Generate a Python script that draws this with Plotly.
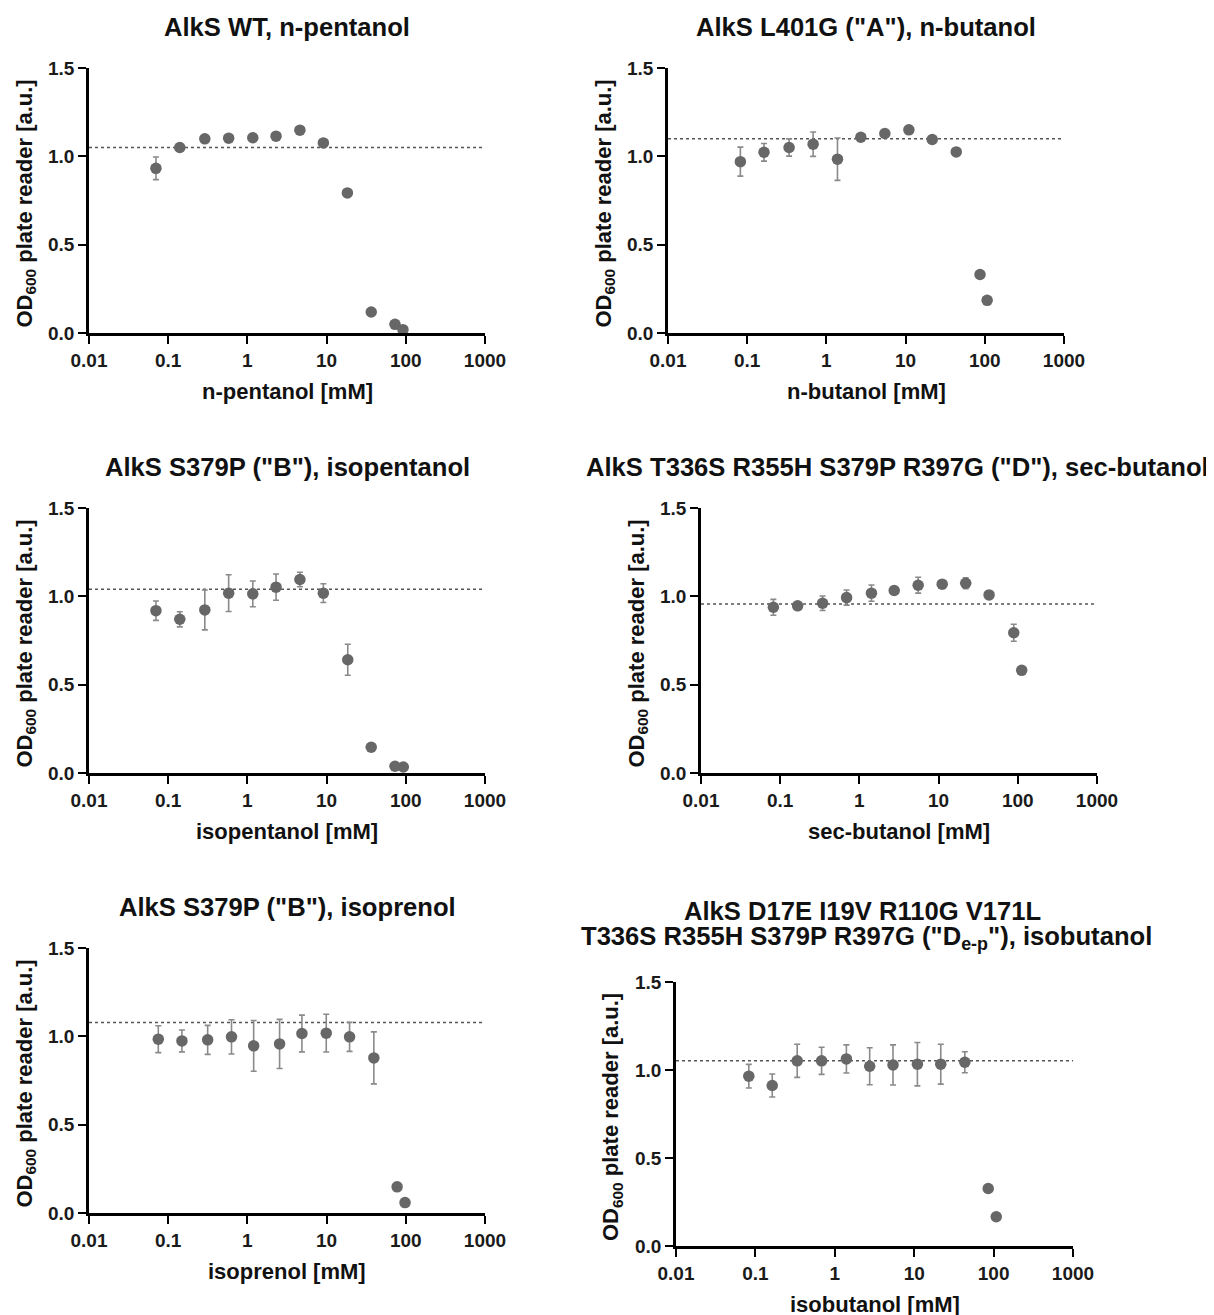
import plotly.graph_objects as go

# ---------------- data ----------------
titles = [
    "AlkS WT, n-pentanol",
    "AlkS L401G (\"A\"), n-butanol",
    "AlkS S379P (\"B\"), isopentanol",
    "AlkS T336S R355H S379P R397G (\"D\"), sec-butanol",
    "AlkS S379P (\"B\"), isoprenol",
    "AlkS D17E I19V R110G V171L",
]
title6_line2 = "T336S R355H S379P R397G (\"D<sub>e-p</sub>\"), isobutanol"
xlabels = ["n-pentanol [mM]", "n-butanol [mM]", "isopentanol [mM]",
           "sec-butanol [mM]", "isoprenol [mM]", "isobutanol [mM]"]
ylabel = "OD<sub>600</sub> plate reader [a.u.]"

x_ticks = [0.01, 0.1, 1, 10, 100, 1000]
x_ticktext = ["0.01", "0.1", "1", "10", "100", "1000"]
y_ticks = [0, 0.5, 1.0, 1.5]
y_ticktext = ["0.0", "0.5", "1.0", "1.5"]

conc_npentanol = [0.07, 0.14, 0.29, 0.58, 1.17, 2.3, 4.6, 9.1, 18.3, 36.6, 73, 92]
od_npentanol = [0.932, 1.050, 1.099, 1.103, 1.105, 1.114, 1.148, 1.076, 0.793, 0.119, 0.049, 0.019]
err_npentanol = [0.064, 0, 0, 0, 0, 0, 0, 0, 0, 0, 0, 0]
base_npentanol = 1.050

conc_nbutanol = [0.082, 0.163, 0.338, 0.68, 1.38, 2.72, 5.47, 11.0, 21.7, 43.6, 87, 107]
od_nbutanol = [0.970, 1.023, 1.050, 1.069, 0.984, 1.108, 1.129, 1.150, 1.095, 1.025, 0.331, 0.185]
err_nbutanol = [0.082, 0.050, 0.049, 0.069, 0.120, 0, 0.015, 0, 0, 0, 0, 0]
base_nbutanol = 1.099

conc_isopentanol = [0.07, 0.14, 0.29, 0.58, 1.17, 2.3, 4.6, 9.1, 18.5, 36.6, 73, 93]
od_isopentanol = [0.919, 0.870, 0.923, 1.018, 1.014, 1.052, 1.095, 1.018, 0.641, 0.146, 0.038, 0.034]
err_isopentanol = [0.055, 0.043, 0.113, 0.104, 0.073, 0.074, 0.041, 0.053, 0.088, 0, 0, 0]
base_isopentanol = 1.040

conc_secbutanol = [0.082, 0.166, 0.343, 0.689, 1.42, 2.75, 5.52, 11.1, 22.0, 43.4, 88.9, 112]
od_secbutanol = [0.938, 0.946, 0.961, 0.993, 1.018, 1.033, 1.063, 1.069, 1.074, 1.008, 0.794, 0.581]
err_secbutanol = [0.045, 0.015, 0.041, 0.043, 0.046, 0.012, 0.045, 0.012, 0.031, 0, 0.048, 0]
base_secbutanol = 0.957

conc_isoprenol = [0.075, 0.149, 0.315, 0.63, 1.2, 2.55, 4.88, 9.9, 19.5, 39.5, 77.7, 97.8]
od_isoprenol = [0.984, 0.974, 0.980, 0.997, 0.946, 0.957, 1.016, 1.018, 0.997, 0.878, 0.148, 0.059]
err_isoprenol = [0.076, 0.062, 0.082, 0.097, 0.144, 0.139, 0.104, 0.107, 0.082, 0.147, 0, 0]
base_isoprenol = 1.078

conc_isobutanol = [0.0826, 0.163, 0.336, 0.682, 1.40, 2.75, 5.41, 10.97, 21.6, 43.4, 85.5, 108]
od_isobutanol = [0.965, 0.912, 1.052, 1.052, 1.063, 1.021, 1.029, 1.033, 1.033, 1.044, 0.327, 0.166]
err_isobutanol = [0.067, 0.065, 0.094, 0.077, 0.080, 0.105, 0.114, 0.123, 0.113, 0.060, 0, 0]
base_isobutanol = 1.052

panels = [
    (conc_npentanol, od_npentanol, err_npentanol, base_npentanol),
    (conc_nbutanol, od_nbutanol, err_nbutanol, base_nbutanol),
    (conc_isopentanol, od_isopentanol, err_isopentanol, base_isopentanol),
    (conc_secbutanol, od_secbutanol, err_secbutanol, base_secbutanol),
    (conc_isoprenol, od_isoprenol, err_isoprenol, base_isoprenol),
    (conc_isobutanol, od_isobutanol, err_isobutanol, base_isobutanol),
]

# ---------------- layout (pixel boxes, screen coordinates) ----------------
W, H = 1214, 1315
OFF = 8  # page body margin
boxes = [
    (89, 485, 68, 333),
    (668, 1064, 68, 333),
    (89, 485, 508, 773),
    (701, 1097, 508, 773),
    (89, 485, 948, 1213),
    (676, 1073, 982, 1246),
]
title_pos = [(287, 27), (866, 27), (287, 467), (897, 467), (287, 907), (862, 911)]
title6_line2_pos = (866, 938)

FONT = "Liberation Sans, Arial, Helvetica, sans-serif"
MARKER = "#676767"
ERRC = "#8a8a8a"


def px(x):
    return (x - OFF) / W


def py(y):
    return 1 - (y - OFF) / H


fig = go.Figure()
annotations = []
shapes = []
layout_axes = {}

title_font = dict(family=FONT, size=25.6, color="#111111", weight="bold")
label_font = dict(family=FONT, size=22, color="#111111", weight="bold")

for i, ((cx, cy, ce, base), (l, r, t, b)) in enumerate(zip(panels, boxes)):
    n = i + 1
    xa = "x" if n == 1 else f"x{n}"
    ya = "y" if n == 1 else f"y{n}"
    fig.add_trace(go.Scatter(
        x=cx, y=cy, xaxis=xa, yaxis=ya, mode="markers",
        marker=dict(color=MARKER, size=11.5, line=dict(width=0)),
        error_y=dict(type="data", array=ce, visible=True, color=ERRC,
                     thickness=1.6, width=3),
        cliponaxis=False, showlegend=False,
    ))
    axis_common = dict(
        showline=True, linecolor="black", linewidth=2.5,
        ticks="outside", ticklen=8, tickwidth=2, tickcolor="black",
        showgrid=False, zeroline=False, automargin=False,
        tickfont=dict(family=FONT, size=19, color="#1a1a1a", weight="bold"),
    )
    layout_axes[("xaxis" if n == 1 else f"xaxis{n}")] = dict(
        axis_common, type="log", range=[-2, 3],
        tickvals=x_ticks, ticktext=x_ticktext,
        domain=[px(l), px(r)], anchor=ya,
    )
    layout_axes[("yaxis" if n == 1 else f"yaxis{n}")] = dict(
        axis_common, range=[0, 1.5],
        tickvals=y_ticks, ticktext=y_ticktext,
        domain=[py(b), py(t)], anchor=xa,
    )
    shapes.append(dict(
        type="line", xref=f"{xa} domain", yref=ya,
        x0=0, x1=1, y0=base, y1=base,
        line=dict(color="#555555", width=1.5, dash="dot"), layer="below",
    ))
    # panel title
    tx, ty = title_pos[i]
    annotations.append(dict(
        text=titles[i], x=px(tx), y=py(ty), xref="paper", yref="paper",
        xanchor="center", yanchor="middle", showarrow=False, font=title_font,
    ))
    # x-axis title
    annotations.append(dict(
        text=xlabels[i], x=px((l + r) / 2), y=py(b + 58), xref="paper", yref="paper",
        xanchor="center", yanchor="middle", showarrow=False, font=label_font,
    ))
    # y-axis title
    annotations.append(dict(
        text=ylabel, x=px(l - 64), y=py((t + b) / 2 + 3), xref="paper", yref="paper",
        xanchor="center", yanchor="middle", showarrow=False, textangle=-90,
        font=label_font,
    ))

annotations.append(dict(
    text=title6_line2, x=px(title6_line2_pos[0]), y=py(title6_line2_pos[1]),
    xref="paper", yref="paper", xanchor="center", yanchor="middle",
    showarrow=False, font=title_font,
))

fig.update_layout(
    template="none",
    width=W, height=H, autosize=False,
    margin=dict(l=0, r=0, t=0, b=0, autoexpand=False),
    paper_bgcolor="white", plot_bgcolor="white",
    font=dict(family=FONT, color="#111111"),
    annotations=annotations, shapes=shapes,
    **layout_axes,
)

fig.write_html("out.html")
